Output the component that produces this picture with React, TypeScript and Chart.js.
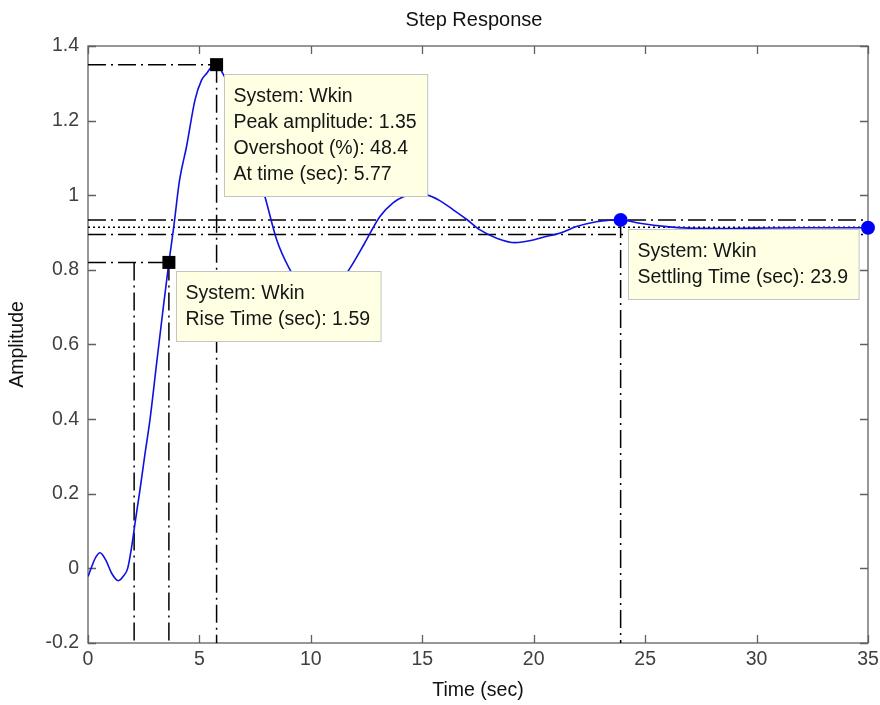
import React, { useEffect, useRef } from 'react';
import { Chart, registerables } from 'chart.js';

Chart.register(...registerables);

// ---- data ----
const timeSec = [
  0, 0.17, 0.35, 0.54, 0.8, 1.06, 1.36, 1.6, 1.78, 1.96, 2.11, 2.33, 2.56, 2.78, 3.08,
  3.38, 3.63, 3.83, 4.11, 4.42, 4.8, 5.1, 5.33, 5.55, 5.77, 6.06, 6.5, 7.0, 7.5, 7.94,
  8.47, 9.03, 9.6, 10.4, 11.0, 11.75, 12.4, 13.1, 13.7, 14.15, 14.7, 15.2, 15.8, 16.39, 17.0,
  17.59, 18.34, 19.16, 19.98, 20.6, 21.16, 21.92, 22.81, 23.4, 23.9, 24.76, 25.96, 27.0, 28.5, 30.0,
  32.0, 35.0,
];
const amplitude = [
  -0.022, 0.005, 0.03, 0.042, 0.022, -0.013, -0.033, -0.02, 0.0, 0.058, 0.121, 0.21, 0.308, 0.398, 0.55,
  0.70, 0.82, 0.907, 1.041, 1.13, 1.255, 1.309, 1.327, 1.345, 1.351, 1.325, 1.27, 1.18, 1.08, 0.996,
  0.88, 0.804, 0.753, 0.725, 0.741, 0.804, 0.87, 0.943, 0.98, 0.996, 1.003, 1.001, 0.985, 0.961, 0.935,
  0.907, 0.885, 0.873, 0.88, 0.89, 0.898, 0.916, 0.929, 0.933, 0.934, 0.925, 0.916, 0.912, 0.911, 0.912,
  0.913, 0.913,
];

const xTickValues = [0, 5, 10, 15, 20, 25, 30, 35];
const xTickLabels = ['0', '5', '10', '15', '20', '25', '30', '35'];
const yTickValues = [-0.2, 0, 0.2, 0.4, 0.6, 0.8, 1, 1.2, 1.4];
const yTickLabels = ['-0.2', '0', '0.2', '0.4', '0.6', '0.8', '1', '1.2', '1.4'];

const xMin = 0;
const xMax = 35;
const yMin = -0.2;
const yMax = 1.4;

const systemName = 'Wkin';
const peakTime = 5.77;
const peakAmplitude = 1.35;
const overshootPct = 48.4;
const riseStartTime = 2.07;
const riseEndTime = 3.63;
const riseLevel = 0.82;
const riseTime = 1.59;
const settlingTime = 23.9;
const settlingAmplitude = 0.934;
const upperBound = 0.934;
const lowerBound = 0.895;
const steadyState = 0.914;
const finalTime = 35;
const finalAmplitude = 0.913;

const chartTitle = 'Step Response';
const xTitle = 'Time (sec)';
const yTitle = 'Amplitude';

const FONT = "'Liberation Sans', Arial, sans-serif";

type Tip = { x: number; y: number; lines: string[] };
const tips: Tip[] = [
  {
    x: peakTime,
    y: peakAmplitude,
    lines: [
      `System: ${systemName}`,
      `Peak amplitude: ${peakAmplitude}`,
      `Overshoot (%): ${overshootPct}`,
      `At time (sec): ${peakTime}`,
    ],
  },
  { x: riseEndTime, y: riseLevel, lines: [`System: ${systemName}`, `Rise Time (sec): ${riseTime}`] },
  { x: settlingTime, y: settlingAmplitude, lines: [`System: ${systemName}`, `Settling Time (sec): ${settlingTime}`] },
];

const DASHDOT = [18, 5, 2, 5];
const DOTTED = [2, 3];

function guide(points: { x: number; y: number }[], dash: number[]) {
  return {
    data: points,
    showLine: true,
    borderColor: '#000000',
    borderWidth: 1.5,
    borderDash: dash,
    pointRadius: 0,
    fill: false,
  };
}

const framePlugin = {
  id: 'matlabFrame',
  beforeDatasetsDraw(chart: any) {
    const { ctx, chartArea } = chart;
    const xs = chart.scales.x;
    const ys = chart.scales.y;
    const tl = 8;
    ctx.save();
    ctx.strokeStyle = '#606060';
    ctx.lineWidth = 1.3;
    ctx.strokeRect(chartArea.left, chartArea.top, chartArea.right - chartArea.left, chartArea.bottom - chartArea.top);
    ctx.beginPath();
    xTickValues.forEach((v) => {
      const px = Math.round(xs.getPixelForValue(v)) + 0.5;
      ctx.moveTo(px, chartArea.bottom);
      ctx.lineTo(px, chartArea.bottom - tl);
      ctx.moveTo(px, chartArea.top);
      ctx.lineTo(px, chartArea.top + tl);
    });
    yTickValues.forEach((v) => {
      const py = Math.round(ys.getPixelForValue(v)) + 0.5;
      ctx.moveTo(chartArea.left, py);
      ctx.lineTo(chartArea.left + tl, py);
      ctx.moveTo(chartArea.right, py);
      ctx.lineTo(chartArea.right - tl, py);
    });
    ctx.stroke();
    ctx.restore();
  },
  afterDatasetsDraw(chart: any) {
    const { ctx } = chart;
    const xs = chart.scales.x;
    const ys = chart.scales.y;
    ctx.save();
    ctx.font = `19.5px ${FONT}`;
    tips.forEach((tip) => {
      const px = xs.getPixelForValue(tip.x);
      const py = ys.getPixelForValue(tip.y);
      const left = Math.round(px + 7) + 0.5;
      const top = Math.round(py + 9) + 0.5;
      const w = Math.max(...tip.lines.map((l) => ctx.measureText(l).width)) + 20;
      const h = 44 + 26 * (tip.lines.length - 1);
      ctx.fillStyle = '#ffffe3';
      ctx.fillRect(left, top, w, h);
      ctx.strokeStyle = '#c4c4c4';
      ctx.lineWidth = 1;
      ctx.strokeRect(left, top, w, h);
      ctx.fillStyle = '#151515';
      ctx.textBaseline = 'middle';
      ctx.textAlign = 'left';
      tip.lines.forEach((l, i) => {
        ctx.fillText(l, left + 9, top + 22 + 26 * i);
      });
    });
    ctx.restore();
  },
  afterDraw(chart: any) {
    const { ctx, chartArea } = chart;
    ctx.save();
    ctx.font = `20px ${FONT}`;
    ctx.fillStyle = '#111111';
    ctx.textAlign = 'center';
    ctx.textBaseline = 'middle';
    ctx.fillText(chartTitle, (chartArea.left + chartArea.right) / 2 - 4, 20);
    ctx.restore();
  },
};

const whiteBg = {
  id: 'whiteBg',
  beforeDraw(chart: any) {
    const { ctx, width, height } = chart;
    ctx.save();
    ctx.fillStyle = '#ffffff';
    ctx.fillRect(0, 0, width, height);
    ctx.restore();
  },
};

function zeroPad(scale: any) {
  scale.paddingLeft = 0;
  scale.paddingRight = 0;
  scale.paddingTop = 0;
  scale.paddingBottom = 0;
}

export default function App() {
  const canvasRef = useRef<HTMLCanvasElement | null>(null);

  useEffect(() => {
    document.body.style.margin = '0';
    const canvas = canvasRef.current;
    if (!canvas) return;

    const curve = timeSec.map((t, i) => ({ x: t, y: amplitude[i] }));

    const chart = new Chart(canvas, {
      type: 'scatter',
      data: {
        datasets: [
          {
            data: [
              { x: peakTime, y: peakAmplitude },
              { x: riseEndTime, y: riseLevel },
            ],
            pointStyle: 'rect',
            pointRadius: 9.2,
            pointBackgroundColor: '#000000',
            pointBorderColor: '#000000',
            pointBorderWidth: 0,
            showLine: false,
            clip: false as any,
          },
          {
            data: [
              { x: settlingTime, y: settlingAmplitude },
              { x: finalTime, y: finalAmplitude },
            ],
            pointStyle: 'circle',
            pointRadius: 7,
            pointBackgroundColor: '#0000ff',
            pointBorderColor: '#0000ff',
            pointBorderWidth: 0,
            showLine: false,
            clip: false as any,
          },
          {
            data: curve,
            showLine: true,
            borderColor: '#1010e0',
            borderWidth: 1.6,
            pointRadius: 0,
            cubicInterpolationMode: 'monotone',
            fill: false,
          },
          guide([{ x: xMin, y: peakAmplitude }, { x: peakTime, y: peakAmplitude }], DASHDOT),
          guide([{ x: peakTime, y: peakAmplitude }, { x: peakTime, y: yMin }], DASHDOT),
          guide([{ x: xMin, y: riseLevel }, { x: riseEndTime, y: riseLevel }], DASHDOT),
          guide([{ x: riseStartTime, y: riseLevel }, { x: riseStartTime, y: yMin }], DASHDOT),
          guide([{ x: riseEndTime, y: riseLevel }, { x: riseEndTime, y: yMin }], DASHDOT),
          guide([{ x: settlingTime, y: settlingAmplitude }, { x: settlingTime, y: yMin }], DASHDOT),
          guide([{ x: xMin, y: upperBound }, { x: xMax, y: upperBound }], DASHDOT),
          guide([{ x: xMin, y: lowerBound }, { x: xMax, y: lowerBound }], DASHDOT),
          guide([{ x: xMin, y: steadyState }, { x: xMax, y: steadyState }], DOTTED),
        ] as any,
      },
      options: {
        animation: false,
        responsive: false,
        maintainAspectRatio: false,
        events: [],
        layout: { padding: { top: 46, right: 12, left: 0, bottom: 0 } },
        plugins: {
          legend: { display: false },
          tooltip: { enabled: false },
          title: { display: false },
        },
        scales: {
          x: {
            type: 'linear',
            min: xMin,
            max: xMax,
            grid: { display: false, drawTicks: false },
            border: { display: false },
            afterBuildTicks: (scale: any) => {
              scale.ticks = xTickValues.map((v) => ({ value: v }));
            },
            afterFit: (scale: any) => {
              scale.height = 62;
              zeroPad(scale);
            },
            ticks: {
              padding: 5,
              maxRotation: 0,
              autoSkip: false,
              color: '#404040',
              font: { family: FONT, size: 19.5 },
              callback: (v: any) => {
                const i = xTickValues.findIndex((t) => Math.abs(t - Number(v)) < 1e-6);
                return i >= 0 ? xTickLabels[i] : '';
              },
            },
            title: {
              display: true,
              text: xTitle,
              color: '#111111',
              font: { family: FONT, size: 19.5 },
              padding: { top: 0, bottom: 3 },
            },
          },
          y: {
            type: 'linear',
            min: yMin,
            max: yMax,
            grid: { display: false, drawTicks: false },
            border: { display: false },
            afterBuildTicks: (scale: any) => {
              scale.ticks = yTickValues.map((v) => ({ value: v }));
            },
            afterFit: (scale: any) => {
              scale.width = 88;
              zeroPad(scale);
            },
            ticks: {
              padding: 9,
              autoSkip: false,
              color: '#404040',
              font: { family: FONT, size: 19.5 },
              callback: (v: any) => {
                const i = yTickValues.findIndex((t) => Math.abs(t - Number(v)) < 1e-6);
                return i >= 0 ? yTickLabels[i] : '';
              },
            },
            title: {
              display: true,
              text: yTitle,
              color: '#111111',
              font: { family: FONT, size: 19.5 },
              padding: { top: 6, bottom: 0 },
            },
          },
        },
      } as any,
      plugins: [whiteBg, framePlugin],
    });

    return () => {
      chart.destroy();
    };
  }, []);

  return (
    <div style={{ width: 880, height: 705 }}>
      <canvas ref={canvasRef} width={880} height={705} style={{ display: 'block', width: 880, height: 705 }} />
    </div>
  );
}
